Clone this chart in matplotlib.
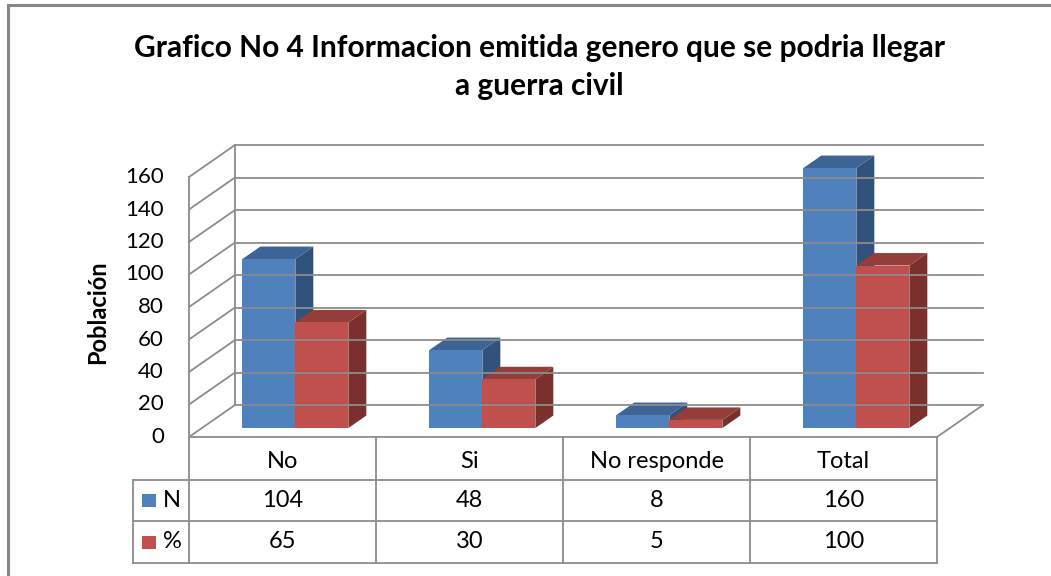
import matplotlib
matplotlib.use("Agg")
import matplotlib.pyplot as plt
from matplotlib.patches import Polygon, Rectangle

plt.rcParams['font.family'] = ['Lato', 'DejaVu Sans']

# data
categorias = ["No", "Si", "No responde", "Total"]
serie_n = [104, 48, 8, 160]
serie_pct = [65, 30, 5, 100]
series = ["N", "%"]
yticks = [0, 20, 40, 60, 80, 100, 120, 140, 160]

W, H = 1051, 576
fig = plt.figure(figsize=(W / 100, H / 100), dpi=100)

# frame (only top and left visible in the original crop)
fig.add_artist(plt.Line2D([7.5 / W, 7.5 / W], [0, 1 - 4.5 / H], color="#888888", lw=2.2))
fig.add_artist(plt.Line2D([7.5 / W, 1], [1 - 4.5 / H, 1 - 4.5 / H], color="#888888", lw=2.2))

# front plotting plane: x 189..937 px, y 437 (0) .. 177 (160)
x0, x1, yb, yt = 189, 937, 437, 177
ax = fig.add_axes([x0 / W, 1 - yb / H, (x1 - x0) / W, (yb - yt) / H])
ax.set_xlim(0, len(categorias))
ax.set_ylim(0, 160)
ax.axis("off")

px_x = (x1 - x0) / len(categorias)   # px per category
px_y = (yb - yt) / 160.0             # px per unit
DX = 46 / px_x                       # depth offset (data units)
DY = 32 / px_y

grid_c = "#8c8c8c"
lw = 1.3

# back wall grid + side wall diagonals
for v in yticks:
    ax.plot([DX, len(categorias) + DX], [v + DY, v + DY], color=grid_c, lw=lw, clip_on=False)
    ax.plot([0, DX], [v, v + DY], color=grid_c, lw=lw, clip_on=False)
ax.plot([DX, DX], [DY, 160 + DY], color=grid_c, lw=lw, clip_on=False)
ax.plot([0, 0], [0, 160], color=grid_c, lw=lw, clip_on=False)
ax.plot([0, len(categorias)], [0, 0], color=grid_c, lw=lw, clip_on=False)
ax.plot([len(categorias), len(categorias) + DX], [0, DY], color=grid_c, lw=lw, clip_on=False)

# y tick labels
for v in yticks:
    ax.text(-25 / px_x, v, str(v), ha="right", va="center", fontsize=16, clip_on=False)

ax.text(-91 / px_x, 80 - 3, "Población", rotation=90, ha="center", va="center",
        fontsize=17, fontweight="bold")

# 3d columns
colores = [("#4F81BD", "#3D6494", "#32527E"), ("#C0504D", "#943D3A", "#7C302E")]
bw = 53 / px_x
d0, d1 = 0.28, 0.67
for i in range(len(categorias)):
    for s, vals in enumerate([serie_n, serie_pct]):
        front, top, side = colores[s]
        v = vals[i]
        xl = i + 0.5 - bw + s * bw + d0 * DX
        xr = xl + bw
        yb0 = d0 * DY
        ddx, ddy = (d1 - d0) * DX, (d1 - d0) * DY
        ax.add_patch(Polygon([(xr, yb0), (xr + ddx, yb0 + ddy), (xr + ddx, yb0 + ddy + v),
                              (xr, yb0 + v)], closed=True, fc=side, ec="none", clip_on=False))
        ax.add_patch(Polygon([(xl, yb0 + v), (xr, yb0 + v), (xr + ddx, yb0 + v + ddy),
                              (xl + ddx, yb0 + v + ddy)], closed=True, fc=top, ec="none", clip_on=False))
        ax.add_patch(Rectangle((xl, yb0), bw, v, fc=front, ec="none", clip_on=False))

# data table
r1, r2, r3 = -43 / px_y, -84 / px_y, -126 / px_y
xleft = -(x0 - 133) / px_x
tc = "#8c8c8c"
for k in range(len(categorias) + 1):
    ax.plot([k, k], [0, r3], color=tc, lw=lw, clip_on=False)
ax.plot([xleft, len(categorias)], [r1, r1], color=tc, lw=lw, clip_on=False)
ax.plot([xleft, len(categorias)], [r2, r2], color=tc, lw=lw, clip_on=False)
ax.plot([xleft, len(categorias)], [r3, r3], color=tc, lw=lw, clip_on=False)
ax.plot([xleft, xleft], [r1, r3], color=tc, lw=lw, clip_on=False)

fs = 17
off = -3 / px_y
for i, c in enumerate(categorias):
    ax.text(i + 0.5, (0 + r1) / 2 + off, c, ha="center", va="center", fontsize=fs, clip_on=False)
    ax.text(i + 0.5, (r1 + r2) / 2, str(serie_n[i]), ha="center", va="center", fontsize=fs, clip_on=False)
    ax.text(i + 0.5, (r2 + r3) / 2, str(serie_pct[i]), ha="center", va="center", fontsize=fs, clip_on=False)

for s, (nombre, (yl, yh)) in enumerate(zip(series, [(r1, r2), (r2, r3)])):
    ym = (yl + yh) / 2
    ax.add_patch(Rectangle((-(x0 - 142) / px_x, ym - 6.5 / px_y), 14 / px_x, 13 / px_y,
                           fc=colores[s][0], ec="none", clip_on=False))
    ax.text(-(x0 - 163) / px_x, ym, nombre, ha="left", va="center", fontsize=fs, clip_on=False)

fig.text(539 / W, 1 - 67 / H, "Grafico No 4 Informacion emitida genero que se podria llegar\na guerra civil",
         ha="center", va="center", fontsize=21.5, fontweight="bold", linespacing=1.45)

fig.savefig("out.png", dpi=100)
